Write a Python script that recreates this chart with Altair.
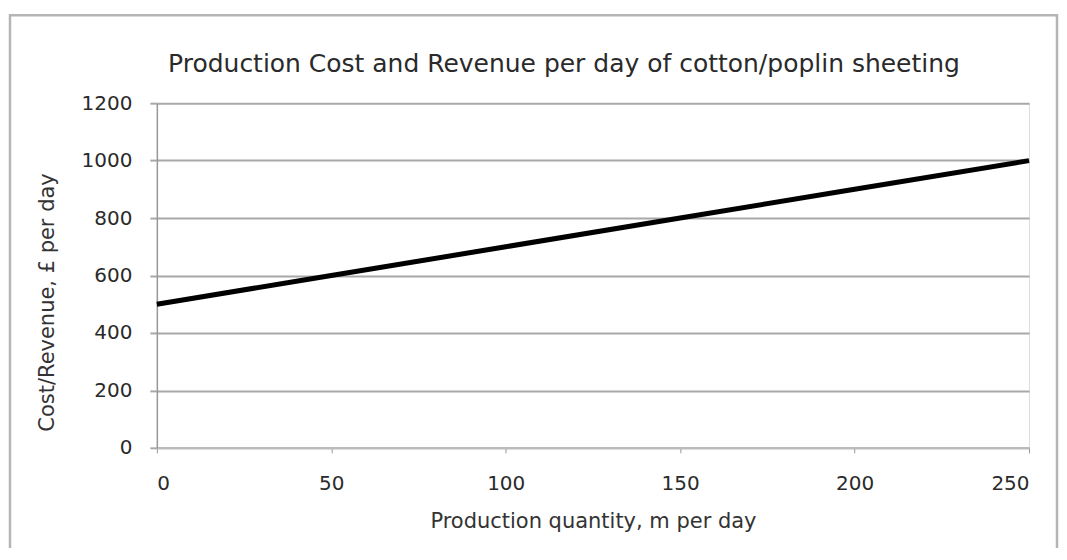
import altair as alt
import pandas as pd

quantity = [0, 50, 100, 150, 200, 250]
cost = [500, 600, 700, 800, 900, 1000]

df = pd.DataFrame({"q": quantity, "c": cost})

FONT = "DejaVu Sans"

line = alt.Chart(df).mark_line(color="black", strokeWidth=5, clip=False).encode(
    x=alt.X("q:Q",
            scale=alt.Scale(domain=[0, 250], nice=False, zero=False),
            axis=alt.Axis(values=[0, 50, 100, 150, 200, 250], grid=False, format="d",
                          title="Production quantity, m per day",
                          titleFont=FONT, titleFontSize=21, titleFontWeight="normal",
                          titleColor="#333333", titleY=80, titleBaseline="alphabetic",
                          labelFont=FONT, labelFontSize=20, labelColor="#2a2a2a",
                          labelPadding=21, tickSize=5, tickColor="#999999",
                          domainColor="#bbbbbb", domainWidth=2)),
    y=alt.Y("c:Q",
            scale=alt.Scale(domain=[0, 1200], nice=False),
            axis=alt.Axis(values=[0, 200, 400, 600, 800, 1000, 1200], grid=True, format="d",
                          gridColor="#a8a8a8", gridWidth=2,
                          title="Cost/Revenue, £ per day",
                          titleFont=FONT, titleFontSize=21, titleFontWeight="normal",
                          titleColor="#333333", titleX=-109, titleY=199,
                          titleAngle=-90, titleAlign="center", titleBaseline="middle",
                          labelFont=FONT, labelFontSize=20, labelColor="#2a2a2a",
                          labelPadding=18, tickSize=7, tickColor="#a8a8a8", tickWidth=2,
                          domainColor="#999999", domainWidth=1.5)),
)

border = alt.Chart(pd.DataFrame({"k": [0]})).mark_rect(
    fill=None, stroke="#b5b5b5", strokeWidth=2.5, clip=False
).encode(x=alt.value(-147), x2=alt.value(901), y=alt.value(-88), y2=alt.value(480))

chart = alt.layer(border, line).properties(
    width=873, height=345,
    title=alt.TitleParams(
        "Production  Cost and Revenue per day of cotton/poplin  sheeting",
        font=FONT, fontSize=25, fontWeight="normal", color="#2a2a2a",
        anchor="middle", dx=-29, offset=-83, baseline="alphabetic"),
    autosize=alt.AutoSizeParams(type="none"),
    padding={"left": 149, "top": 95, "right": 30, "bottom": 100},
).configure_view(stroke=None).configure(background="white")

chart.save("out.html", embed_options={"renderer": "svg", "actions": False})
